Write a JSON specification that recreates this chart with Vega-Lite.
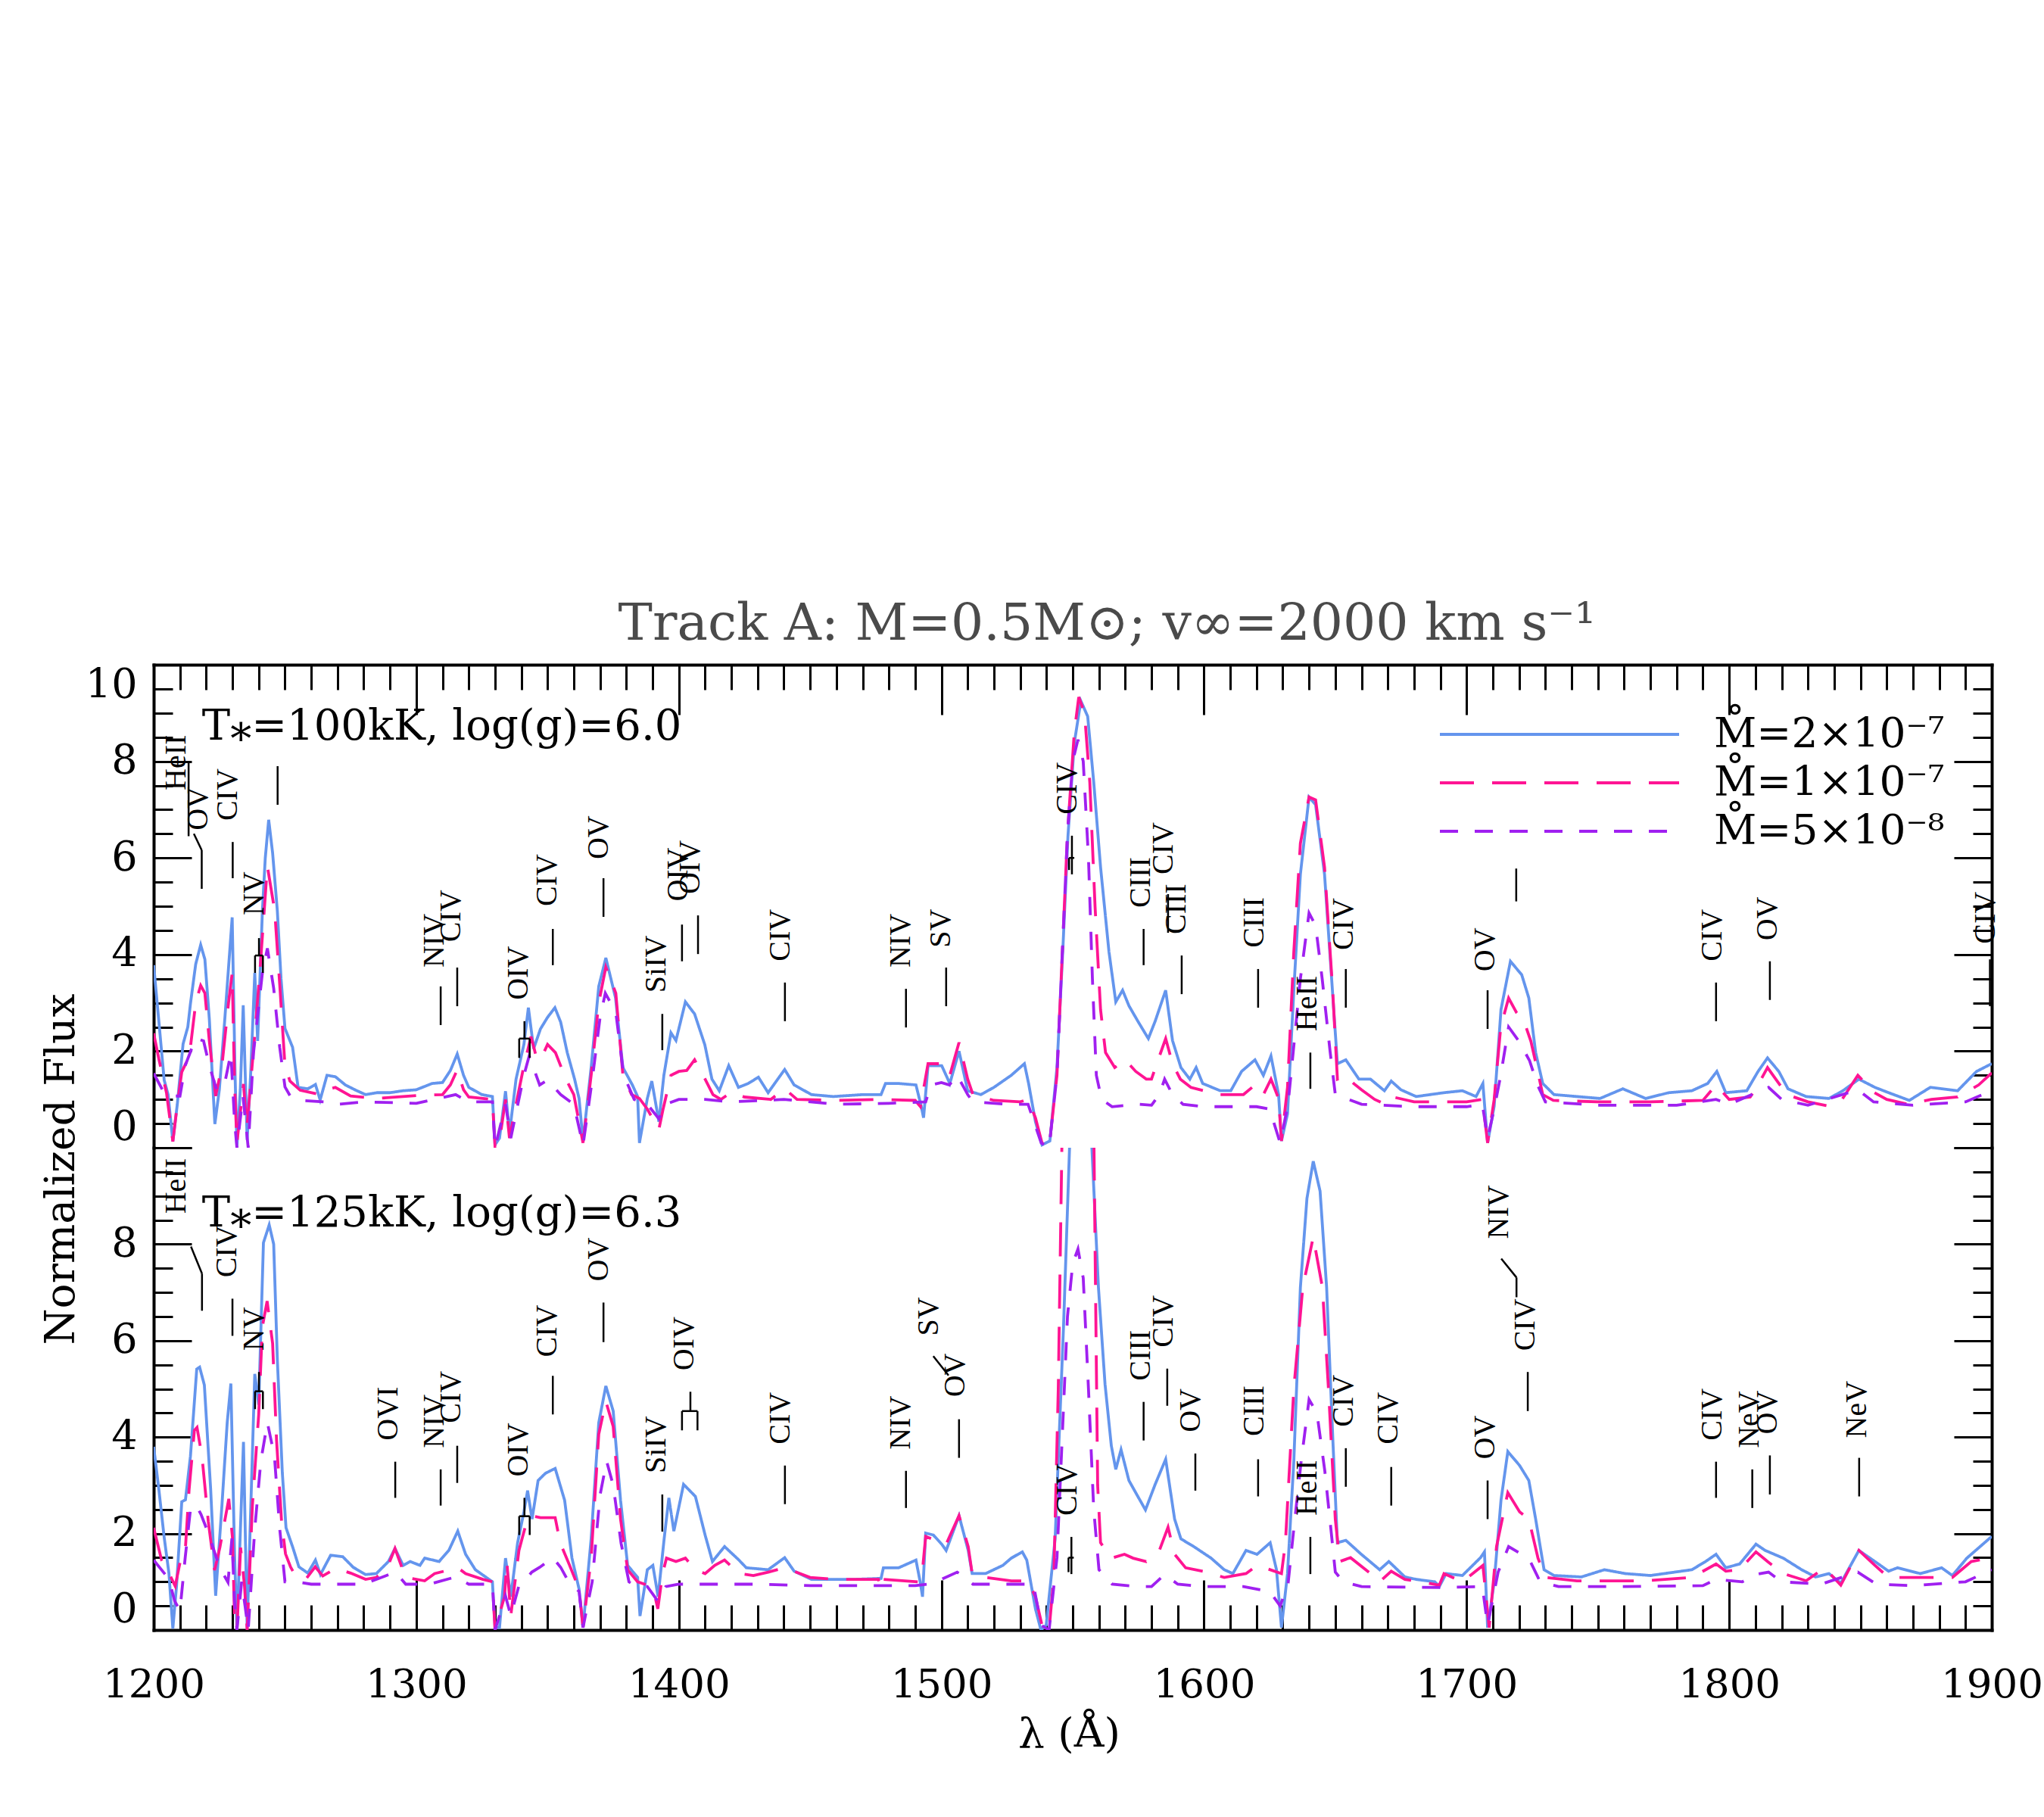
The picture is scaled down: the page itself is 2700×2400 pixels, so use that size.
{
"$schema":"https://vega.github.io/schema/vega-lite/v6.json",
"background":"white",
"autosize":{"type":"pad"},
"padding":{"left":53,"top":790,"right":0,"bottom":40},
"title":{"text":"Track A: M=0.5M⊙; v∞=2000 km s⁻¹","font":"DejaVu Serif","fontSize":68,"fontWeight":"normal","color":"#4a4a4a","anchor":"middle","frame":"group","offset":-36,"baseline":"alphabetic","dx":45},
"spacing":0,
"bounds":"flush",
"resolve":{"scale":{"color":"shared","strokeDash":"shared"},"legend":{"color":"shared","strokeDash":"shared"}},
"config":{"view":{"stroke":null},"axis":{"grid":false,"domainColor":"black","tickColor":"black","domainWidth":4,"tickWidth":3,"domainCap":"square","labelFont":"DejaVu Serif","titleFont":"DejaVu Serif","labelColor":"black","titleColor":"black","titleFontWeight":"normal"}},
"datasets":{
"pl":[{"p":"A","x":1218.4,"y":8.45,"t":"T⁎=100kK, log(g)=6.0"},{"p":"B","x":1218.4,"y":8.36,"t":"T⁎=125kK, log(g)=6.3"}],
"lab":[
{"p":"A","x":1208.7,"y":7.4,"t":"HeII"},{"p":"A","x":1217,"y":6.57,"t":"OV"},{"p":"A","x":1228.2,"y":6.77,"t":"CIV"},{"p":"A","x":1238.4,"y":4.81,"t":"NV"},{"p":"A","x":1307,"y":3.73,"t":"NIV"},{"p":"A","x":1313.4,"y":4.26,"t":"CIV"},{"p":"A","x":1339,"y":3.06,"t":"OIV"},{"p":"A","x":1350,"y":5.0,"t":"CIV"},{"p":"A","x":1369.5,"y":5.97,"t":"OV"},{"p":"A","x":1391.4,"y":3.21,"t":"SiIV"},{"p":"A","x":1399.8,"y":5.1,"t":"OIV"},{"p":"A","x":1404.4,"y":5.25,"t":"OIV"},{"p":"A","x":1438.7,"y":3.86,"t":"CIV"},{"p":"A","x":1484.5,"y":3.73,"t":"NIV"},{"p":"A","x":1499.8,"y":4.14,"t":"SV"},{"p":"A","x":1547.9,"y":6.9,"t":"CIV"},{"p":"A","x":1575.9,"y":4.97,"t":"CIII"},{"p":"A","x":1584.5,"y":5.66,"t":"CIV"},{"p":"A","x":1589.5,"y":4.42,"t":"CIII"},{"p":"A","x":1619.1,"y":4.14,"t":"CIII"},{"p":"A","x":1639.3,"y":2.41,"t":"HeII"},{"p":"A","x":1653.2,"y":4.09,"t":"CIV"},{"p":"A","x":1707,"y":3.65,"t":"OV"},{"p":"A","x":1793.6,"y":3.86,"t":"CIV"},{"p":"A","x":1814.6,"y":4.29,"t":"OV"},{"p":"A","x":1897.6,"y":4.22,"t":"CIV"},
{"p":"B","x":1208.6,"y":8.63,"t":"HeII"},{"p":"B","x":1228,"y":7.31,"t":"CIV"},{"p":"B","x":1238.4,"y":5.79,"t":"NV"},{"p":"B","x":1289.4,"y":3.93,"t":"OVI"},{"p":"B","x":1307,"y":3.77,"t":"NIV"},{"p":"B","x":1313.4,"y":4.29,"t":"CIV"},{"p":"B","x":1339,"y":3.18,"t":"OIV"},{"p":"B","x":1350,"y":5.66,"t":"CIV"},{"p":"B","x":1369.5,"y":7.23,"t":"OV"},{"p":"B","x":1391.4,"y":3.25,"t":"SiIV"},{"p":"B","x":1402,"y":5.38,"t":"OIV"},{"p":"B","x":1438.7,"y":3.85,"t":"CIV"},{"p":"B","x":1484.5,"y":3.74,"t":"NIV"},{"p":"B","x":1495.2,"y":6.1,"t":"SV"},{"p":"B","x":1505.3,"y":4.83,"t":"OV"},{"p":"B","x":1547.9,"y":2.37,"t":"CIV"},{"p":"B","x":1575.9,"y":5.17,"t":"CIII"},{"p":"B","x":1584.5,"y":5.86,"t":"CIV"},{"p":"B","x":1595,"y":4.1,"t":"OV"},{"p":"B","x":1619.1,"y":4.02,"t":"CIII"},{"p":"B","x":1639.3,"y":2.37,"t":"HeII"},{"p":"B","x":1653.2,"y":4.21,"t":"CIV"},{"p":"B","x":1670.2,"y":3.85,"t":"CIV"},{"p":"B","x":1707,"y":3.54,"t":"OV"},{"p":"B","x":1712.3,"y":8.11,"t":"NIV"},{"p":"B","x":1722.4,"y":5.79,"t":"CIV"},{"p":"B","x":1793.6,"y":3.93,"t":"CIV"},{"p":"B","x":1807.7,"y":3.77,"t":"NeV"},{"p":"B","x":1814.6,"y":4.06,"t":"OV"},{"p":"B","x":1848.6,"y":3.98,"t":"NeV"}
],
"seg":[
{"p":"A","x":1213.3,"x2":1213.3,"y":6.45,"y2":8.0},{"p":"A","x":1218.3,"x2":1218.3,"y":5.36,"y2":6.16},{"p":"A","x":1218.3,"x2":1215.3,"y":6.16,"y2":6.5},{"p":"A","x":1230.1,"x2":1230.1,"y":5.58,"y2":6.33},{"p":"A","x":1238.6,"x2":1238.6,"y":3.62,"y2":3.98},{"p":"A","x":1238.6,"x2":1241.6,"y":3.98,"y2":3.98},{"p":"A","x":1241.6,"x2":1241.6,"y":3.98,"y2":3.62},{"p":"A","x":1240.1,"x2":1240.1,"y":3.98,"y2":4.34},{"p":"A","x":1247.2,"x2":1247.2,"y":7.1,"y2":7.9},{"p":"A","x":1309.3,"x2":1309.3,"y":2.54,"y2":3.34},{"p":"A","x":1315.6,"x2":1315.6,"y":2.93,"y2":3.73},{"p":"A","x":1339.2,"x2":1339.2,"y":1.86,"y2":2.26},{"p":"A","x":1339.2,"x2":1343.2,"y":2.26,"y2":2.26},{"p":"A","x":1343.2,"x2":1343.2,"y":2.26,"y2":1.86},{"p":"A","x":1341.2,"x2":1341.2,"y":2.26,"y2":2.62},{"p":"A","x":1352,"x2":1352,"y":3.78,"y2":4.53},{"p":"A","x":1371.3,"x2":1371.3,"y":4.78,"y2":5.58},{"p":"A","x":1393.7,"x2":1393.7,"y":2.02,"y2":2.77},{"p":"A","x":1401.2,"x2":1401.2,"y":3.86,"y2":4.62},{"p":"A","x":1407.3,"x2":1407.3,"y":4.01,"y2":4.81},{"p":"A","x":1440.4,"x2":1440.4,"y":2.62,"y2":3.42},{"p":"A","x":1486.5,"x2":1486.5,"y":2.49,"y2":3.29},{"p":"A","x":1501.8,"x2":1501.8,"y":2.93,"y2":3.73},{"p":"A","x":1549.7,"x2":1549.7,"y":5.66,"y2":6.46},{"p":"A","x":1548.6,"x2":1550.6,"y":6.0,"y2":6.0},{"p":"A","x":1548.6,"x2":1548.6,"y":6.0,"y2":5.75},{"p":"A","x":1577,"x2":1577,"y":3.78,"y2":4.53},{"p":"A","x":1586.3,"x2":1586.3,"y":4.45,"y2":5.25},{"p":"A","x":1591.5,"x2":1591.5,"y":3.18,"y2":3.98},{"p":"A","x":1620.6,"x2":1620.6,"y":2.9,"y2":3.7},{"p":"A","x":1640.5,"x2":1640.5,"y":1.22,"y2":1.97},{"p":"A","x":1654,"x2":1654,"y":2.9,"y2":3.7},{"p":"A","x":1708,"x2":1708,"y":2.46,"y2":3.26},{"p":"A","x":1718.9,"x2":1718.9,"y":5.1,"y2":5.78},{"p":"A","x":1795,"x2":1795,"y":2.62,"y2":3.42},{"p":"A","x":1815.5,"x2":1815.5,"y":3.06,"y2":3.86},{"p":"A","x":1899.3,"x2":1899.3,"y":2.93,"y2":3.9},
{"p":"B","x":1218.4,"x2":1218.4,"y":6.62,"y2":7.39},{"p":"B","x":1218.4,"x2":1214.2,"y":7.39,"y2":7.95},{"p":"B","x":1230,"x2":1230,"y":6.1,"y2":6.87},{"p":"B","x":1238.6,"x2":1238.6,"y":4.58,"y2":4.95},{"p":"B","x":1238.6,"x2":1241.6,"y":4.95,"y2":4.95},{"p":"B","x":1241.6,"x2":1241.6,"y":4.95,"y2":4.58},{"p":"B","x":1240.1,"x2":1240.1,"y":4.95,"y2":5.35},{"p":"B","x":1292,"x2":1292,"y":2.74,"y2":3.49},{"p":"B","x":1309.3,"x2":1309.3,"y":2.58,"y2":3.33},{"p":"B","x":1315.6,"x2":1315.6,"y":3.05,"y2":3.82},{"p":"B","x":1339.2,"x2":1339.2,"y":1.97,"y2":2.36},{"p":"B","x":1339.2,"x2":1343.2,"y":2.36,"y2":2.36},{"p":"B","x":1343.2,"x2":1343.2,"y":2.36,"y2":1.97},{"p":"B","x":1341.2,"x2":1341.2,"y":2.36,"y2":2.74},{"p":"B","x":1352,"x2":1352,"y":4.47,"y2":5.27},{"p":"B","x":1371.3,"x2":1371.3,"y":5.97,"y2":6.79},{"p":"B","x":1393.7,"x2":1393.7,"y":2.04,"y2":2.81},{"p":"B","x":1404.4,"x2":1404.4,"y":4.54,"y2":4.94},{"p":"B","x":1401.2,"x2":1407.1,"y":4.54,"y2":4.54},{"p":"B","x":1401.2,"x2":1401.2,"y":4.54,"y2":4.14},{"p":"B","x":1407.1,"x2":1407.1,"y":4.54,"y2":4.14},{"p":"B","x":1440.4,"x2":1440.4,"y":2.61,"y2":3.41},{"p":"B","x":1486.5,"x2":1486.5,"y":2.53,"y2":3.3},{"p":"B","x":1506.7,"x2":1506.7,"y":3.57,"y2":4.37},{"p":"B","x":1496.9,"x2":1502.7,"y":5.68,"y2":5.28},{"p":"B","x":1549.5,"x2":1549.5,"y":1.16,"y2":1.93},{"p":"B","x":1548.4,"x2":1550.4,"y":1.5,"y2":1.5},{"p":"B","x":1548.4,"x2":1548.4,"y":1.5,"y2":1.2},{"p":"B","x":1577,"x2":1577,"y":3.93,"y2":4.73},{"p":"B","x":1586,"x2":1586,"y":4.65,"y2":5.42},{"p":"B","x":1596.7,"x2":1596.7,"y":2.89,"y2":3.66},{"p":"B","x":1620.6,"x2":1620.6,"y":2.77,"y2":3.54},{"p":"B","x":1640.5,"x2":1640.5,"y":1.16,"y2":1.93},{"p":"B","x":1654,"x2":1654,"y":2.97,"y2":3.77},{"p":"B","x":1671.3,"x2":1671.3,"y":2.58,"y2":3.38},{"p":"B","x":1708,"x2":1708,"y":2.3,"y2":3.1},{"p":"B","x":1719,"x2":1719,"y":6.9,"y2":7.31},{"p":"B","x":1719,"x2":1713.2,"y":7.31,"y2":7.7},{"p":"B","x":1723.3,"x2":1723.3,"y":4.54,"y2":5.35},{"p":"B","x":1795,"x2":1795,"y":2.74,"y2":3.49},{"p":"B","x":1808.8,"x2":1808.8,"y":2.53,"y2":3.33},{"p":"B","x":1815.5,"x2":1815.5,"y":2.81,"y2":3.62},{"p":"B","x":1849.5,"x2":1849.5,"y":2.77,"y2":3.57}
],
"spec":[
{"p":"A","s":"a","x":1200,"y":3.78},{"p":"A","s":"a","x":1202,"y":2.6},{"p":"A","s":"a","x":1204,"y":1.4},{"p":"A","s":"a","x":1205.5,"y":1.1},{"p":"A","s":"a","x":1207.3,"y":0.13},{"p":"A","s":"a","x":1209,"y":0.9},{"p":"A","s":"a","x":1211.2,"y":2.15},{"p":"A","s":"a","x":1213,"y":2.5},{"p":"A","s":"a","x":1214,"y":2.98},{"p":"A","s":"a","x":1216,"y":3.8},{"p":"A","s":"a","x":1217.9,"y":4.2},{"p":"A","s":"a","x":1219.5,"y":3.9},{"p":"A","s":"a","x":1221.2,"y":2.66},{"p":"A","s":"a","x":1223.3,"y":0.49},{"p":"A","s":"a","x":1225,"y":1.2},{"p":"A","s":"a","x":1227,"y":2.6},{"p":"A","s":"a","x":1229.9,"y":4.77},{"p":"A","s":"a","x":1231,"y":1.5},{"p":"A","s":"a","x":1231.7,"y":0.03},{"p":"A","s":"a","x":1233,"y":1.2},{"p":"A","s":"a","x":1234.1,"y":2.95},{"p":"A","s":"a","x":1235.6,"y":0.16},{"p":"A","s":"a","x":1237,"y":1.6},{"p":"A","s":"a","x":1238.5,"y":3.62},{"p":"A","s":"a","x":1239.6,"y":2.21},{"p":"A","s":"a","x":1241.4,"y":4.9},{"p":"A","s":"a","x":1242.5,"y":6.0},{"p":"A","s":"a","x":1243.8,"y":6.79},{"p":"A","s":"a","x":1245.3,"y":6.1},{"p":"A","s":"a","x":1247.1,"y":4.9},{"p":"A","s":"a","x":1248.5,"y":3.5},{"p":"A","s":"a","x":1250,"y":2.47},{"p":"A","s":"a","x":1252.9,"y":2.08},{"p":"A","s":"a","x":1255,"y":1.25},{"p":"A","s":"a","x":1258.7,"y":1.22},{"p":"A","s":"a","x":1261.6,"y":1.31},{"p":"A","s":"a","x":1263.4,"y":0.99},{"p":"A","s":"a","x":1266,"y":1.5},{"p":"A","s":"a","x":1269.2,"y":1.47},{"p":"A","s":"a","x":1273,"y":1.3},{"p":"A","s":"a","x":1277,"y":1.19},{"p":"A","s":"a","x":1280.7,"y":1.1},{"p":"A","s":"a","x":1285,"y":1.14},{"p":"A","s":"a","x":1290,"y":1.14},{"p":"A","s":"a","x":1295,"y":1.18},{"p":"A","s":"a","x":1300,"y":1.2},{"p":"A","s":"a","x":1306,"y":1.33},{"p":"A","s":"a","x":1310,"y":1.35},{"p":"A","s":"a","x":1313,"y":1.6},{"p":"A","s":"a","x":1315.6,"y":1.94},{"p":"A","s":"a","x":1318,"y":1.5},{"p":"A","s":"a","x":1320,"y":1.25},{"p":"A","s":"a","x":1325,"y":1.1},{"p":"A","s":"a","x":1329,"y":1.06},{"p":"A","s":"a","x":1330,"y":0.06},{"p":"A","s":"a","x":1331.7,"y":0.2},{"p":"A","s":"a","x":1334,"y":1.17},{"p":"A","s":"a","x":1335.5,"y":0.3},{"p":"A","s":"a","x":1338,"y":1.42},{"p":"A","s":"a","x":1341,"y":2.14},{"p":"A","s":"a","x":1342.7,"y":2.9},{"p":"A","s":"a","x":1344.7,"y":2.05},{"p":"A","s":"a","x":1347.3,"y":2.46},{"p":"A","s":"a","x":1350,"y":2.7},{"p":"A","s":"a","x":1352.8,"y":2.9},{"p":"A","s":"a","x":1355,"y":2.6},{"p":"A","s":"a","x":1357.5,"y":1.97},{"p":"A","s":"a","x":1360.3,"y":1.42},{"p":"A","s":"a","x":1362,"y":1.02},{"p":"A","s":"a","x":1363.5,"y":0.14},{"p":"A","s":"a","x":1366.6,"y":1.66},{"p":"A","s":"a","x":1369.5,"y":3.34},{"p":"A","s":"a","x":1372.2,"y":3.93},{"p":"A","s":"a","x":1375.9,"y":3.1},{"p":"A","s":"a","x":1378.7,"y":1.66},{"p":"A","s":"a","x":1382.3,"y":1.3},{"p":"A","s":"a","x":1384.3,"y":1.06},{"p":"A","s":"a","x":1385,"y":0.1},{"p":"A","s":"a","x":1388,"y":1.02},{"p":"A","s":"a","x":1389.7,"y":1.38},{"p":"A","s":"a","x":1392.4,"y":0.54},{"p":"A","s":"a","x":1394.3,"y":1.5},{"p":"A","s":"a","x":1397,"y":2.38},{"p":"A","s":"a","x":1398.9,"y":2.22},{"p":"A","s":"a","x":1402.5,"y":3.02},{"p":"A","s":"a","x":1406,"y":2.77},{"p":"A","s":"a","x":1409.9,"y":2.13},{"p":"A","s":"a","x":1412.6,"y":1.42},{"p":"A","s":"a","x":1415.4,"y":1.18},{"p":"A","s":"a","x":1419,"y":1.7},{"p":"A","s":"a","x":1422.7,"y":1.25},{"p":"A","s":"a","x":1426.4,"y":1.33},{"p":"A","s":"a","x":1430.3,"y":1.46},{"p":"A","s":"a","x":1434,"y":1.14},{"p":"A","s":"a","x":1440.3,"y":1.62},{"p":"A","s":"a","x":1443.9,"y":1.3},{"p":"A","s":"a","x":1450.5,"y":1.1},{"p":"A","s":"a","x":1458.8,"y":1.06},{"p":"A","s":"a","x":1470,"y":1.1},{"p":"A","s":"a","x":1477,"y":1.1},{"p":"A","s":"a","x":1478.7,"y":1.33},{"p":"A","s":"a","x":1483.7,"y":1.33},{"p":"A","s":"a","x":1490.3,"y":1.3},{"p":"A","s":"a","x":1492.3,"y":0.86},{"p":"A","s":"a","x":1493.2,"y":0.62},{"p":"A","s":"a","x":1494.9,"y":1.7},{"p":"A","s":"a","x":1500.1,"y":1.7},{"p":"A","s":"a","x":1503.2,"y":1.33},{"p":"A","s":"a","x":1506.7,"y":2.0},{"p":"A","s":"a","x":1510,"y":1.18},{"p":"A","s":"a","x":1515,"y":1.1},{"p":"A","s":"a","x":1520,"y":1.25},{"p":"A","s":"a","x":1526.6,"y":1.5},{"p":"A","s":"a","x":1531.6,"y":1.74},{"p":"A","s":"a","x":1533.2,"y":1.33},{"p":"A","s":"a","x":1535.8,"y":0.54},{"p":"A","s":"a","x":1538.3,"y":0.06},{"p":"A","s":"a","x":1541.3,"y":0.14},{"p":"A","s":"a","x":1544,"y":1.66},{"p":"A","s":"a","x":1546.2,"y":4.06},{"p":"A","s":"a","x":1548.2,"y":6.46},{"p":"A","s":"a","x":1550.6,"y":8.38},{"p":"A","s":"a","x":1553.1,"y":9.25},{"p":"A","s":"a","x":1555.7,"y":8.93},{"p":"A","s":"a","x":1558,"y":7.57},{"p":"A","s":"a","x":1560.6,"y":5.81},{"p":"A","s":"a","x":1563.8,"y":4.06},{"p":"A","s":"a","x":1566.4,"y":3.02},{"p":"A","s":"a","x":1569,"y":3.26},{"p":"A","s":"a","x":1571.4,"y":2.94},{"p":"A","s":"a","x":1574.8,"y":2.62},{"p":"A","s":"a","x":1578.8,"y":2.26},{"p":"A","s":"a","x":1581.4,"y":2.62},{"p":"A","s":"a","x":1585.4,"y":3.26},{"p":"A","s":"a","x":1588,"y":2.22},{"p":"A","s":"a","x":1591.2,"y":1.66},{"p":"A","s":"a","x":1594.6,"y":1.42},{"p":"A","s":"a","x":1597,"y":1.66},{"p":"A","s":"a","x":1599.5,"y":1.33},{"p":"A","s":"a","x":1606.2,"y":1.18},{"p":"A","s":"a","x":1610.2,"y":1.18},{"p":"A","s":"a","x":1614.3,"y":1.58},{"p":"A","s":"a","x":1619.4,"y":1.82},{"p":"A","s":"a","x":1622.6,"y":1.5},{"p":"A","s":"a","x":1625.5,"y":1.9},{"p":"A","s":"a","x":1628.4,"y":1.1},{"p":"A","s":"a","x":1629.5,"y":0.14},{"p":"A","s":"a","x":1631.8,"y":0.7},{"p":"A","s":"a","x":1634.2,"y":3.26},{"p":"A","s":"a","x":1636.7,"y":5.66},{"p":"A","s":"a","x":1640,"y":7.26},{"p":"A","s":"a","x":1642.5,"y":7.1},{"p":"A","s":"a","x":1645.9,"y":5.66},{"p":"A","s":"a","x":1649.1,"y":3.1},{"p":"A","s":"a","x":1650.8,"y":1.74},{"p":"A","s":"a","x":1654,"y":1.82},{"p":"A","s":"a","x":1659,"y":1.42},{"p":"A","s":"a","x":1663.4,"y":1.42},{"p":"A","s":"a","x":1668.7,"y":1.18},{"p":"A","s":"a","x":1671.3,"y":1.38},{"p":"A","s":"a","x":1675,"y":1.2},{"p":"A","s":"a","x":1680.8,"y":1.06},{"p":"A","s":"a","x":1691.4,"y":1.14},{"p":"A","s":"a","x":1698.4,"y":1.18},{"p":"A","s":"a","x":1703.6,"y":1.06},{"p":"A","s":"a","x":1706.2,"y":1.33},{"p":"A","s":"a","x":1708,"y":0.1},{"p":"A","s":"a","x":1710.5,"y":0.86},{"p":"A","s":"a","x":1713.1,"y":2.86},{"p":"A","s":"a","x":1716.7,"y":3.86},{"p":"A","s":"a","x":1721,"y":3.58},{"p":"A","s":"a","x":1723.7,"y":3.1},{"p":"A","s":"a","x":1726.3,"y":1.97},{"p":"A","s":"a","x":1729,"y":1.33},{"p":"A","s":"a","x":1733.3,"y":1.1},{"p":"A","s":"a","x":1750.8,"y":1.02},{"p":"A","s":"a","x":1759.5,"y":1.22},{"p":"A","s":"a","x":1768.2,"y":1.02},{"p":"A","s":"a","x":1777,"y":1.14},{"p":"A","s":"a","x":1785.8,"y":1.18},{"p":"A","s":"a","x":1791.8,"y":1.33},{"p":"A","s":"a","x":1795.3,"y":1.58},{"p":"A","s":"a","x":1798.7,"y":1.14},{"p":"A","s":"a","x":1806.7,"y":1.18},{"p":"A","s":"a","x":1811,"y":1.58},{"p":"A","s":"a","x":1814.6,"y":1.86},{"p":"A","s":"a","x":1818.9,"y":1.58},{"p":"A","s":"a","x":1822.4,"y":1.22},{"p":"A","s":"a","x":1829.3,"y":1.06},{"p":"A","s":"a","x":1838,"y":1.02},{"p":"A","s":"a","x":1843.3,"y":1.18},{"p":"A","s":"a","x":1849.4,"y":1.42},{"p":"A","s":"a","x":1855.5,"y":1.25},{"p":"A","s":"a","x":1860.7,"y":1.14},{"p":"A","s":"a","x":1868.6,"y":0.98},{"p":"A","s":"a","x":1876.6,"y":1.25},{"p":"A","s":"a","x":1887,"y":1.18},{"p":"A","s":"a","x":1894.2,"y":1.58},{"p":"A","s":"a","x":1900,"y":1.74},
{"p":"A","s":"b","x":1200,"y":2.37},{"p":"A","s":"b","x":1202,"y":1.83},{"p":"A","s":"b","x":1204.9,"y":1.13},{"p":"A","s":"b","x":1207.3,"y":0.13},{"p":"A","s":"b","x":1209,"y":0.9},{"p":"A","s":"b","x":1210.7,"y":1.57},{"p":"A","s":"b","x":1213.6,"y":1.9},{"p":"A","s":"b","x":1216,"y":3.0},{"p":"A","s":"b","x":1217.9,"y":3.36},{"p":"A","s":"b","x":1219.5,"y":3.2},{"p":"A","s":"b","x":1221.2,"y":2.21},{"p":"A","s":"b","x":1223.6,"y":1.07},{"p":"A","s":"b","x":1226,"y":1.7},{"p":"A","s":"b","x":1228.5,"y":3.0},{"p":"A","s":"b","x":1229.9,"y":3.62},{"p":"A","s":"b","x":1230.8,"y":1.32},{"p":"A","s":"b","x":1231.7,"y":0.1},{"p":"A","s":"b","x":1234.2,"y":1.32},{"p":"A","s":"b","x":1235.5,"y":0.42},{"p":"A","s":"b","x":1238.5,"y":2.34},{"p":"A","s":"b","x":1240.4,"y":3.62},{"p":"A","s":"b","x":1243.3,"y":5.83},{"p":"A","s":"b","x":1246.1,"y":4.9},{"p":"A","s":"b","x":1248.1,"y":3.3},{"p":"A","s":"b","x":1250,"y":1.7},{"p":"A","s":"b","x":1251.9,"y":1.38},{"p":"A","s":"b","x":1255.8,"y":1.19},{"p":"A","s":"b","x":1263.4,"y":1.1},{"p":"A","s":"b","x":1266,"y":1.2},{"p":"A","s":"b","x":1269.2,"y":1.25},{"p":"A","s":"b","x":1275,"y":1.07},{"p":"A","s":"b","x":1285,"y":1.02},{"p":"A","s":"b","x":1300,"y":1.08},{"p":"A","s":"b","x":1310,"y":1.1},{"p":"A","s":"b","x":1313,"y":1.3},{"p":"A","s":"b","x":1315.6,"y":1.61},{"p":"A","s":"b","x":1318,"y":1.2},{"p":"A","s":"b","x":1320,"y":1.05},{"p":"A","s":"b","x":1329,"y":1.0},{"p":"A","s":"b","x":1330,"y":0.02},{"p":"A","s":"b","x":1331.7,"y":0.15},{"p":"A","s":"b","x":1334,"y":1.0},{"p":"A","s":"b","x":1335.5,"y":0.2},{"p":"A","s":"b","x":1338,"y":0.9},{"p":"A","s":"b","x":1341,"y":1.7},{"p":"A","s":"b","x":1343.7,"y":2.3},{"p":"A","s":"b","x":1346,"y":1.82},{"p":"A","s":"b","x":1348,"y":1.9},{"p":"A","s":"b","x":1350,"y":2.14},{"p":"A","s":"b","x":1353,"y":1.97},{"p":"A","s":"b","x":1357,"y":1.42},{"p":"A","s":"b","x":1360,"y":1.1},{"p":"A","s":"b","x":1363.5,"y":0.1},{"p":"A","s":"b","x":1366.6,"y":1.5},{"p":"A","s":"b","x":1369.5,"y":3.0},{"p":"A","s":"b","x":1372.2,"y":3.74},{"p":"A","s":"b","x":1376,"y":3.2},{"p":"A","s":"b","x":1378.7,"y":1.5},{"p":"A","s":"b","x":1382,"y":1.1},{"p":"A","s":"b","x":1385,"y":1.02},{"p":"A","s":"b","x":1388,"y":0.8},{"p":"A","s":"b","x":1392.4,"y":0.38},{"p":"A","s":"b","x":1394,"y":0.8},{"p":"A","s":"b","x":1397,"y":1.5},{"p":"A","s":"b","x":1400,"y":1.58},{"p":"A","s":"b","x":1403,"y":1.6},{"p":"A","s":"b","x":1406,"y":1.82},{"p":"A","s":"b","x":1410,"y":1.42},{"p":"A","s":"b","x":1413,"y":1.1},{"p":"A","s":"b","x":1416,"y":1.0},{"p":"A","s":"b","x":1420,"y":1.15},{"p":"A","s":"b","x":1425,"y":1.05},{"p":"A","s":"b","x":1435,"y":1.0},{"p":"A","s":"b","x":1440.3,"y":1.22},{"p":"A","s":"b","x":1445,"y":1.0},{"p":"A","s":"b","x":1460,"y":0.98},{"p":"A","s":"b","x":1475,"y":1.0},{"p":"A","s":"b","x":1490,"y":0.98},{"p":"A","s":"b","x":1492,"y":0.85},{"p":"A","s":"b","x":1494.9,"y":1.74},{"p":"A","s":"b","x":1500.1,"y":1.74},{"p":"A","s":"b","x":1503.2,"y":1.5},{"p":"A","s":"b","x":1506.7,"y":2.18},{"p":"A","s":"b","x":1510,"y":1.42},{"p":"A","s":"b","x":1512,"y":1.1},{"p":"A","s":"b","x":1520,"y":0.98},{"p":"A","s":"b","x":1530,"y":0.95},{"p":"A","s":"b","x":1533,"y":1.0},{"p":"A","s":"b","x":1535.8,"y":0.62},{"p":"A","s":"b","x":1538.3,"y":0.1},{"p":"A","s":"b","x":1541,"y":0.0},{"p":"A","s":"b","x":1544,"y":1.5},{"p":"A","s":"b","x":1546,"y":4.0},{"p":"A","s":"b","x":1548,"y":6.5},{"p":"A","s":"b","x":1550.6,"y":8.6},{"p":"A","s":"b","x":1552.3,"y":9.33},{"p":"A","s":"b","x":1554.5,"y":9.0},{"p":"A","s":"b","x":1556.5,"y":7.57},{"p":"A","s":"b","x":1558.5,"y":5.0},{"p":"A","s":"b","x":1560.6,"y":2.86},{"p":"A","s":"b","x":1562.5,"y":1.97},{"p":"A","s":"b","x":1566,"y":1.66},{"p":"A","s":"b","x":1570,"y":1.82},{"p":"A","s":"b","x":1574,"y":1.58},{"p":"A","s":"b","x":1578,"y":1.42},{"p":"A","s":"b","x":1580,"y":1.42},{"p":"A","s":"b","x":1582,"y":1.74},{"p":"A","s":"b","x":1585.4,"y":2.26},{"p":"A","s":"b","x":1588,"y":1.74},{"p":"A","s":"b","x":1591,"y":1.42},{"p":"A","s":"b","x":1595,"y":1.25},{"p":"A","s":"b","x":1600,"y":1.18},{"p":"A","s":"b","x":1606,"y":1.1},{"p":"A","s":"b","x":1615,"y":1.1},{"p":"A","s":"b","x":1619.4,"y":1.3},{"p":"A","s":"b","x":1622.6,"y":1.1},{"p":"A","s":"b","x":1625.5,"y":1.42},{"p":"A","s":"b","x":1628.4,"y":1.02},{"p":"A","s":"b","x":1629.5,"y":0.14},{"p":"A","s":"b","x":1631.8,"y":1.25},{"p":"A","s":"b","x":1634.2,"y":4.06},{"p":"A","s":"b","x":1636.7,"y":6.3},{"p":"A","s":"b","x":1640,"y":7.26},{"p":"A","s":"b","x":1642.5,"y":7.2},{"p":"A","s":"b","x":1645.9,"y":5.81},{"p":"A","s":"b","x":1649,"y":3.26},{"p":"A","s":"b","x":1650.8,"y":1.42},{"p":"A","s":"b","x":1654,"y":1.5},{"p":"A","s":"b","x":1657,"y":1.33},{"p":"A","s":"b","x":1660,"y":1.2},{"p":"A","s":"b","x":1665,"y":1.0},{"p":"A","s":"b","x":1669,"y":0.9},{"p":"A","s":"b","x":1672,"y":1.05},{"p":"A","s":"b","x":1680,"y":0.95},{"p":"A","s":"b","x":1690,"y":0.95},{"p":"A","s":"b","x":1700,"y":0.95},{"p":"A","s":"b","x":1706,"y":1.0},{"p":"A","s":"b","x":1708,"y":0.1},{"p":"A","s":"b","x":1710.5,"y":1.0},{"p":"A","s":"b","x":1713,"y":2.5},{"p":"A","s":"b","x":1716,"y":3.1},{"p":"A","s":"b","x":1719,"y":2.8},{"p":"A","s":"b","x":1722,"y":2.6},{"p":"A","s":"b","x":1724.5,"y":2.2},{"p":"A","s":"b","x":1727,"y":1.6},{"p":"A","s":"b","x":1729,"y":1.1},{"p":"A","s":"b","x":1733,"y":0.98},{"p":"A","s":"b","x":1750,"y":0.95},{"p":"A","s":"b","x":1770,"y":0.95},{"p":"A","s":"b","x":1790,"y":0.98},{"p":"A","s":"b","x":1795,"y":1.3},{"p":"A","s":"b","x":1800,"y":1.0},{"p":"A","s":"b","x":1808,"y":1.05},{"p":"A","s":"b","x":1811,"y":1.3},{"p":"A","s":"b","x":1814.6,"y":1.66},{"p":"A","s":"b","x":1818,"y":1.4},{"p":"A","s":"b","x":1822,"y":1.1},{"p":"A","s":"b","x":1830,"y":0.95},{"p":"A","s":"b","x":1838,"y":0.86},{"p":"A","s":"b","x":1843,"y":1.0},{"p":"A","s":"b","x":1849,"y":1.5},{"p":"A","s":"b","x":1855,"y":1.15},{"p":"A","s":"b","x":1860,"y":1.0},{"p":"A","s":"b","x":1868,"y":0.9},{"p":"A","s":"b","x":1877,"y":1.0},{"p":"A","s":"b","x":1887,"y":1.05},{"p":"A","s":"b","x":1895,"y":1.3},{"p":"A","s":"b","x":1900,"y":1.55},
{"p":"A","s":"c","x":1200,"y":1.54},{"p":"A","s":"c","x":1204,"y":1.13},{"p":"A","s":"c","x":1206,"y":1.07},{"p":"A","s":"c","x":1210,"y":1.07},{"p":"A","s":"c","x":1212,"y":1.7},{"p":"A","s":"c","x":1216,"y":2.27},{"p":"A","s":"c","x":1219,"y":2.21},{"p":"A","s":"c","x":1221.2,"y":1.7},{"p":"A","s":"c","x":1224,"y":1.19},{"p":"A","s":"c","x":1227,"y":1.32},{"p":"A","s":"c","x":1229.4,"y":1.96},{"p":"A","s":"c","x":1230.8,"y":0.55},{"p":"A","s":"c","x":1231.7,"y":0.0},{"p":"A","s":"c","x":1234,"y":1.07},{"p":"A","s":"c","x":1236,"y":0.0},{"p":"A","s":"c","x":1238,"y":1.96},{"p":"A","s":"c","x":1241.4,"y":3.62},{"p":"A","s":"c","x":1243.3,"y":4.13},{"p":"A","s":"c","x":1245.7,"y":3.3},{"p":"A","s":"c","x":1248,"y":2.08},{"p":"A","s":"c","x":1250,"y":1.26},{"p":"A","s":"c","x":1252,"y":1.07},{"p":"A","s":"c","x":1256,"y":0.98},{"p":"A","s":"c","x":1265,"y":0.95},{"p":"A","s":"c","x":1270,"y":0.9},{"p":"A","s":"c","x":1280,"y":0.95},{"p":"A","s":"c","x":1300,"y":0.92},{"p":"A","s":"c","x":1315,"y":1.1},{"p":"A","s":"c","x":1320,"y":0.95},{"p":"A","s":"c","x":1329,"y":0.95},{"p":"A","s":"c","x":1330,"y":0.0},{"p":"A","s":"c","x":1334,"y":0.9},{"p":"A","s":"c","x":1336,"y":0.2},{"p":"A","s":"c","x":1341,"y":1.5},{"p":"A","s":"c","x":1343,"y":1.9},{"p":"A","s":"c","x":1347,"y":1.3},{"p":"A","s":"c","x":1350,"y":1.4},{"p":"A","s":"c","x":1355,"y":1.1},{"p":"A","s":"c","x":1360,"y":0.9},{"p":"A","s":"c","x":1363.5,"y":0.05},{"p":"A","s":"c","x":1367,"y":1.4},{"p":"A","s":"c","x":1370,"y":2.7},{"p":"A","s":"c","x":1372,"y":3.2},{"p":"A","s":"c","x":1376,"y":2.8},{"p":"A","s":"c","x":1379,"y":1.5},{"p":"A","s":"c","x":1383,"y":1.0},{"p":"A","s":"c","x":1388,"y":0.9},{"p":"A","s":"c","x":1392.4,"y":0.6},{"p":"A","s":"c","x":1395,"y":0.9},{"p":"A","s":"c","x":1400,"y":1.0},{"p":"A","s":"c","x":1410,"y":1.0},{"p":"A","s":"c","x":1420,"y":0.95},{"p":"A","s":"c","x":1440,"y":1.0},{"p":"A","s":"c","x":1460,"y":0.9},{"p":"A","s":"c","x":1480,"y":0.92},{"p":"A","s":"c","x":1494,"y":0.95},{"p":"A","s":"c","x":1496,"y":1.3},{"p":"A","s":"c","x":1500,"y":1.35},{"p":"A","s":"c","x":1503,"y":1.3},{"p":"A","s":"c","x":1506,"y":1.5},{"p":"A","s":"c","x":1510,"y":1.1},{"p":"A","s":"c","x":1512,"y":0.95},{"p":"A","s":"c","x":1525,"y":0.9},{"p":"A","s":"c","x":1533,"y":0.9},{"p":"A","s":"c","x":1538,"y":0.1},{"p":"A","s":"c","x":1541,"y":0.0},{"p":"A","s":"c","x":1544,"y":1.5},{"p":"A","s":"c","x":1546,"y":4.0},{"p":"A","s":"c","x":1548,"y":6.5},{"p":"A","s":"c","x":1550,"y":8.0},{"p":"A","s":"c","x":1552,"y":8.45},{"p":"A","s":"c","x":1554,"y":8.0},{"p":"A","s":"c","x":1556,"y":6.0},{"p":"A","s":"c","x":1557.5,"y":3.5},{"p":"A","s":"c","x":1559,"y":1.5},{"p":"A","s":"c","x":1561,"y":1.0},{"p":"A","s":"c","x":1565,"y":0.85},{"p":"A","s":"c","x":1575,"y":0.9},{"p":"A","s":"c","x":1580,"y":0.88},{"p":"A","s":"c","x":1583,"y":1.1},{"p":"A","s":"c","x":1585,"y":1.42},{"p":"A","s":"c","x":1588,"y":1.1},{"p":"A","s":"c","x":1592,"y":0.9},{"p":"A","s":"c","x":1600,"y":0.85},{"p":"A","s":"c","x":1610,"y":0.85},{"p":"A","s":"c","x":1620,"y":0.85},{"p":"A","s":"c","x":1625,"y":0.8},{"p":"A","s":"c","x":1629,"y":0.1},{"p":"A","s":"c","x":1632,"y":0.9},{"p":"A","s":"c","x":1634,"y":2.0},{"p":"A","s":"c","x":1636.7,"y":3.5},{"p":"A","s":"c","x":1640,"y":4.86},{"p":"A","s":"c","x":1642.5,"y":4.6},{"p":"A","s":"c","x":1645,"y":3.5},{"p":"A","s":"c","x":1648,"y":2.0},{"p":"A","s":"c","x":1650,"y":1.1},{"p":"A","s":"c","x":1655,"y":1.0},{"p":"A","s":"c","x":1660,"y":0.9},{"p":"A","s":"c","x":1680,"y":0.85},{"p":"A","s":"c","x":1700,"y":0.85},{"p":"A","s":"c","x":1706,"y":0.9},{"p":"A","s":"c","x":1708,"y":0.2},{"p":"A","s":"c","x":1710.5,"y":0.8},{"p":"A","s":"c","x":1713,"y":1.5},{"p":"A","s":"c","x":1716,"y":2.5},{"p":"A","s":"c","x":1720,"y":2.2},{"p":"A","s":"c","x":1724,"y":1.8},{"p":"A","s":"c","x":1727,"y":1.3},{"p":"A","s":"c","x":1730,"y":0.95},{"p":"A","s":"c","x":1750,"y":0.88},{"p":"A","s":"c","x":1780,"y":0.88},{"p":"A","s":"c","x":1795,"y":1.0},{"p":"A","s":"c","x":1800,"y":0.9},{"p":"A","s":"c","x":1815,"y":1.25},{"p":"A","s":"c","x":1820,"y":1.0},{"p":"A","s":"c","x":1830,"y":0.88},{"p":"A","s":"c","x":1849,"y":1.2},{"p":"A","s":"c","x":1855,"y":0.95},{"p":"A","s":"c","x":1870,"y":0.88},{"p":"A","s":"c","x":1890,"y":0.95},{"p":"A","s":"c","x":1900,"y":1.18},
{"p":"B","s":"a","x":1200,"y":3.8},{"p":"B","s":"a","x":1202,"y":2.9},{"p":"B","s":"a","x":1204,"y":1.92},{"p":"B","s":"a","x":1205.8,"y":1.18},{"p":"B","s":"a","x":1207.3,"y":0.03},{"p":"B","s":"a","x":1208.7,"y":0.91},{"p":"B","s":"a","x":1210.7,"y":2.66},{"p":"B","s":"a","x":1212.1,"y":2.7},{"p":"B","s":"a","x":1214,"y":3.6},{"p":"B","s":"a","x":1216.4,"y":5.41},{"p":"B","s":"a","x":1217.5,"y":5.45},{"p":"B","s":"a","x":1219.3,"y":5.08},{"p":"B","s":"a","x":1221.7,"y":2.92},{"p":"B","s":"a","x":1223.6,"y":0.71},{"p":"B","s":"a","x":1226,"y":2.59},{"p":"B","s":"a","x":1228,"y":4.3},{"p":"B","s":"a","x":1229.4,"y":5.11},{"p":"B","s":"a","x":1230.8,"y":1.58},{"p":"B","s":"a","x":1231.7,"y":0.0},{"p":"B","s":"a","x":1234.2,"y":3.9},{"p":"B","s":"a","x":1235.6,"y":0.03},{"p":"B","s":"a","x":1238.5,"y":5.31},{"p":"B","s":"a","x":1240,"y":4.67},{"p":"B","s":"a","x":1241.8,"y":8.03},{"p":"B","s":"a","x":1244,"y":8.4},{"p":"B","s":"a","x":1245.7,"y":8.0},{"p":"B","s":"a","x":1247.1,"y":5.6},{"p":"B","s":"a","x":1249,"y":3.25},{"p":"B","s":"a","x":1250.4,"y":2.12},{"p":"B","s":"a","x":1253,"y":1.71},{"p":"B","s":"a","x":1255.3,"y":1.31},{"p":"B","s":"a","x":1258.7,"y":1.18},{"p":"B","s":"a","x":1261.6,"y":1.45},{"p":"B","s":"a","x":1263.5,"y":1.15},{"p":"B","s":"a","x":1267.4,"y":1.55},{"p":"B","s":"a","x":1272,"y":1.52},{"p":"B","s":"a","x":1276,"y":1.3},{"p":"B","s":"a","x":1280.7,"y":1.15},{"p":"B","s":"a","x":1284.8,"y":1.17},{"p":"B","s":"a","x":1289.4,"y":1.42},{"p":"B","s":"a","x":1291.9,"y":1.69},{"p":"B","s":"a","x":1295,"y":1.34},{"p":"B","s":"a","x":1297.7,"y":1.42},{"p":"B","s":"a","x":1301.4,"y":1.34},{"p":"B","s":"a","x":1303.2,"y":1.49},{"p":"B","s":"a","x":1308.7,"y":1.42},{"p":"B","s":"a","x":1312.4,"y":1.65},{"p":"B","s":"a","x":1315.8,"y":2.05},{"p":"B","s":"a","x":1318.8,"y":1.57},{"p":"B","s":"a","x":1322.5,"y":1.25},{"p":"B","s":"a","x":1329,"y":1.0},{"p":"B","s":"a","x":1330,"y":0.05},{"p":"B","s":"a","x":1331.7,"y":0.05},{"p":"B","s":"a","x":1334,"y":1.49},{"p":"B","s":"a","x":1336,"y":0.69},{"p":"B","s":"a","x":1338.6,"y":1.81},{"p":"B","s":"a","x":1341,"y":2.45},{"p":"B","s":"a","x":1342.4,"y":2.89},{"p":"B","s":"a","x":1344.1,"y":2.3},{"p":"B","s":"a","x":1346.4,"y":3.1},{"p":"B","s":"a","x":1349.2,"y":3.25},{"p":"B","s":"a","x":1352.9,"y":3.35},{"p":"B","s":"a","x":1356.5,"y":2.69},{"p":"B","s":"a","x":1359.3,"y":1.49},{"p":"B","s":"a","x":1362,"y":0.85},{"p":"B","s":"a","x":1363.5,"y":0.05},{"p":"B","s":"a","x":1366.6,"y":1.89},{"p":"B","s":"a","x":1369.5,"y":4.3},{"p":"B","s":"a","x":1372.2,"y":5.06},{"p":"B","s":"a","x":1375,"y":4.54},{"p":"B","s":"a","x":1377.8,"y":2.69},{"p":"B","s":"a","x":1380.5,"y":1.34},{"p":"B","s":"a","x":1384.3,"y":1.09},{"p":"B","s":"a","x":1385.2,"y":0.29},{"p":"B","s":"a","x":1388,"y":1.25},{"p":"B","s":"a","x":1390.1,"y":1.34},{"p":"B","s":"a","x":1392.1,"y":0.69},{"p":"B","s":"a","x":1394.4,"y":1.89},{"p":"B","s":"a","x":1396.2,"y":2.74},{"p":"B","s":"a","x":1398.1,"y":2.05},{"p":"B","s":"a","x":1401.8,"y":3.02},{"p":"B","s":"a","x":1406.3,"y":2.77},{"p":"B","s":"a","x":1410,"y":1.97},{"p":"B","s":"a","x":1412.8,"y":1.42},{"p":"B","s":"a","x":1417.4,"y":1.73},{"p":"B","s":"a","x":1422.7,"y":1.46},{"p":"B","s":"a","x":1425.7,"y":1.29},{"p":"B","s":"a","x":1434,"y":1.25},{"p":"B","s":"a","x":1440.3,"y":1.5},{"p":"B","s":"a","x":1443.9,"y":1.22},{"p":"B","s":"a","x":1450.5,"y":1.05},{"p":"B","s":"a","x":1467,"y":1.05},{"p":"B","s":"a","x":1477,"y":1.07},{"p":"B","s":"a","x":1477.9,"y":1.29},{"p":"B","s":"a","x":1483.7,"y":1.29},{"p":"B","s":"a","x":1490.3,"y":1.45},{"p":"B","s":"a","x":1491.9,"y":1.0},{"p":"B","s":"a","x":1492.8,"y":0.69},{"p":"B","s":"a","x":1494,"y":2.01},{"p":"B","s":"a","x":1496.9,"y":1.97},{"p":"B","s":"a","x":1500.1,"y":1.78},{"p":"B","s":"a","x":1501.8,"y":1.65},{"p":"B","s":"a","x":1506.7,"y":2.37},{"p":"B","s":"a","x":1510.2,"y":1.65},{"p":"B","s":"a","x":1511.7,"y":1.17},{"p":"B","s":"a","x":1516.8,"y":1.17},{"p":"B","s":"a","x":1523.4,"y":1.34},{"p":"B","s":"a","x":1526.6,"y":1.49},{"p":"B","s":"a","x":1530.8,"y":1.62},{"p":"B","s":"a","x":1532.5,"y":1.45},{"p":"B","s":"a","x":1535.8,"y":0.44},{"p":"B","s":"a","x":1537.9,"y":0.0},{"p":"B","s":"a","x":1539.9,"y":0.1},{"p":"B","s":"a","x":1543.3,"y":1.89},{"p":"B","s":"a","x":1546.5,"y":6.3},{"p":"B","s":"a","x":1549.1,"y":10.5},{"p":"B","s":"a","x":1553,"y":13},{"p":"B","s":"a","x":1557.3,"y":10.0},{"p":"B","s":"a","x":1559.8,"y":7.1},{"p":"B","s":"a","x":1562.3,"y":5.1},{"p":"B","s":"a","x":1564.7,"y":3.82},{"p":"B","s":"a","x":1566.4,"y":3.33},{"p":"B","s":"a","x":1568.4,"y":3.74},{"p":"B","s":"a","x":1571.4,"y":3.1},{"p":"B","s":"a","x":1574.8,"y":2.77},{"p":"B","s":"a","x":1577.7,"y":2.49},{"p":"B","s":"a","x":1581.4,"y":3.02},{"p":"B","s":"a","x":1585.4,"y":3.54},{"p":"B","s":"a","x":1588.8,"y":2.3},{"p":"B","s":"a","x":1591.2,"y":1.89},{"p":"B","s":"a","x":1596.1,"y":1.73},{"p":"B","s":"a","x":1602.7,"y":1.49},{"p":"B","s":"a","x":1607.7,"y":1.25},{"p":"B","s":"a","x":1611,"y":1.17},{"p":"B","s":"a","x":1616,"y":1.65},{"p":"B","s":"a","x":1620.2,"y":1.57},{"p":"B","s":"a","x":1625.2,"y":1.81},{"p":"B","s":"a","x":1627.6,"y":1.25},{"p":"B","s":"a","x":1629.5,"y":0.05},{"p":"B","s":"a","x":1631.8,"y":1.17},{"p":"B","s":"a","x":1634.2,"y":3.5},{"p":"B","s":"a","x":1636.7,"y":7.1},{"p":"B","s":"a","x":1639.2,"y":8.95},{"p":"B","s":"a","x":1641.6,"y":9.72},{"p":"B","s":"a","x":1644.2,"y":9.1},{"p":"B","s":"a","x":1646.7,"y":7.1},{"p":"B","s":"a","x":1649.1,"y":3.9},{"p":"B","s":"a","x":1650.8,"y":1.81},{"p":"B","s":"a","x":1654,"y":1.86},{"p":"B","s":"a","x":1659.9,"y":1.57},{"p":"B","s":"a","x":1666.9,"y":1.25},{"p":"B","s":"a","x":1670.4,"y":1.42},{"p":"B","s":"a","x":1676.5,"y":1.1},{"p":"B","s":"a","x":1680.8,"y":1.05},{"p":"B","s":"a","x":1687.9,"y":1.0},{"p":"B","s":"a","x":1689.6,"y":0.9},{"p":"B","s":"a","x":1692.2,"y":1.17},{"p":"B","s":"a","x":1698.4,"y":1.13},{"p":"B","s":"a","x":1705.3,"y":1.5},{"p":"B","s":"a","x":1706.8,"y":1.62},{"p":"B","s":"a","x":1708,"y":0.05},{"p":"B","s":"a","x":1710.5,"y":0.99},{"p":"B","s":"a","x":1713.1,"y":2.69},{"p":"B","s":"a","x":1715.7,"y":3.7},{"p":"B","s":"a","x":1720.2,"y":3.41},{"p":"B","s":"a","x":1723.7,"y":3.1},{"p":"B","s":"a","x":1726.3,"y":2.3},{"p":"B","s":"a","x":1729.5,"y":1.25},{"p":"B","s":"a","x":1733.3,"y":1.13},{"p":"B","s":"a","x":1743.7,"y":1.1},{"p":"B","s":"a","x":1752.5,"y":1.25},{"p":"B","s":"a","x":1760.4,"y":1.17},{"p":"B","s":"a","x":1770,"y":1.13},{"p":"B","s":"a","x":1785.8,"y":1.25},{"p":"B","s":"a","x":1791,"y":1.42},{"p":"B","s":"a","x":1795,"y":1.57},{"p":"B","s":"a","x":1798.7,"y":1.29},{"p":"B","s":"a","x":1804,"y":1.37},{"p":"B","s":"a","x":1810.2,"y":1.78},{"p":"B","s":"a","x":1813.7,"y":1.65},{"p":"B","s":"a","x":1820.6,"y":1.49},{"p":"B","s":"a","x":1827.6,"y":1.25},{"p":"B","s":"a","x":1832.9,"y":1.1},{"p":"B","s":"a","x":1838,"y":1.17},{"p":"B","s":"a","x":1842.5,"y":0.97},{"p":"B","s":"a","x":1849.4,"y":1.65},{"p":"B","s":"a","x":1855.5,"y":1.42},{"p":"B","s":"a","x":1860.7,"y":1.22},{"p":"B","s":"a","x":1864.1,"y":1.29},{"p":"B","s":"a","x":1872.8,"y":1.17},{"p":"B","s":"a","x":1880.9,"y":1.29},{"p":"B","s":"a","x":1885,"y":1.13},{"p":"B","s":"a","x":1890.5,"y":1.49},{"p":"B","s":"a","x":1900,"y":1.94},
{"p":"B","s":"b","x":1200,"y":2.12},{"p":"B","s":"b","x":1203,"y":1.45},{"p":"B","s":"b","x":1205.8,"y":1.18},{"p":"B","s":"b","x":1208.2,"y":0.91},{"p":"B","s":"b","x":1210.7,"y":1.58},{"p":"B","s":"b","x":1212.1,"y":1.71},{"p":"B","s":"b","x":1213.5,"y":2.92},{"p":"B","s":"b","x":1215.5,"y":4.14},{"p":"B","s":"b","x":1216.5,"y":4.2},{"p":"B","s":"b","x":1218.4,"y":3.6},{"p":"B","s":"b","x":1220.8,"y":2.25},{"p":"B","s":"b","x":1223.2,"y":1.24},{"p":"B","s":"b","x":1225.2,"y":1.71},{"p":"B","s":"b","x":1228.6,"y":2.72},{"p":"B","s":"b","x":1230,"y":1.92},{"p":"B","s":"b","x":1230.8,"y":0.24},{"p":"B","s":"b","x":1231.7,"y":0.0},{"p":"B","s":"b","x":1233.1,"y":1.71},{"p":"B","s":"b","x":1234.6,"y":0.91},{"p":"B","s":"b","x":1235.6,"y":0.0},{"p":"B","s":"b","x":1237.6,"y":2.59},{"p":"B","s":"b","x":1240,"y":4.47},{"p":"B","s":"b","x":1241.4,"y":6.29},{"p":"B","s":"b","x":1243.2,"y":6.82},{"p":"B","s":"b","x":1245.3,"y":5.94},{"p":"B","s":"b","x":1246.8,"y":3.93},{"p":"B","s":"b","x":1248.7,"y":2.25},{"p":"B","s":"b","x":1250.2,"y":1.58},{"p":"B","s":"b","x":1252.1,"y":1.31},{"p":"B","s":"b","x":1254,"y":1.12},{"p":"B","s":"b","x":1257.9,"y":1.05},{"p":"B","s":"b","x":1261.5,"y":1.31},{"p":"B","s":"b","x":1264.4,"y":1.12},{"p":"B","s":"b","x":1269.3,"y":1.28},{"p":"B","s":"b","x":1275,"y":1.18},{"p":"B","s":"b","x":1280.7,"y":1.05},{"p":"B","s":"b","x":1284.8,"y":1.09},{"p":"B","s":"b","x":1289,"y":1.3},{"p":"B","s":"b","x":1291.9,"y":1.69},{"p":"B","s":"b","x":1295.9,"y":1.09},{"p":"B","s":"b","x":1303.2,"y":1.02},{"p":"B","s":"b","x":1307,"y":1.17},{"p":"B","s":"b","x":1315.8,"y":1.29},{"p":"B","s":"b","x":1318.8,"y":1.17},{"p":"B","s":"b","x":1325.4,"y":1.05},{"p":"B","s":"b","x":1329,"y":1.0},{"p":"B","s":"b","x":1330,"y":0.0},{"p":"B","s":"b","x":1333.6,"y":0.69},{"p":"B","s":"b","x":1334.5,"y":1.42},{"p":"B","s":"b","x":1336,"y":0.3},{"p":"B","s":"b","x":1339.1,"y":1.65},{"p":"B","s":"b","x":1341.8,"y":2.2},{"p":"B","s":"b","x":1343.7,"y":2.37},{"p":"B","s":"b","x":1347.3,"y":2.33},{"p":"B","s":"b","x":1352.9,"y":2.33},{"p":"B","s":"b","x":1354.8,"y":1.81},{"p":"B","s":"b","x":1358.4,"y":1.34},{"p":"B","s":"b","x":1362,"y":0.85},{"p":"B","s":"b","x":1363.5,"y":0.05},{"p":"B","s":"b","x":1366.6,"y":1.49},{"p":"B","s":"b","x":1369.5,"y":4.06},{"p":"B","s":"b","x":1372.2,"y":4.74},{"p":"B","s":"b","x":1375,"y":4.22},{"p":"B","s":"b","x":1377.8,"y":2.3},{"p":"B","s":"b","x":1380.5,"y":1.25},{"p":"B","s":"b","x":1384.3,"y":1.0},{"p":"B","s":"b","x":1388,"y":0.93},{"p":"B","s":"b","x":1390.6,"y":0.77},{"p":"B","s":"b","x":1392,"y":0.44},{"p":"B","s":"b","x":1393.8,"y":1.17},{"p":"B","s":"b","x":1395.3,"y":1.49},{"p":"B","s":"b","x":1398.9,"y":1.42},{"p":"B","s":"b","x":1402.5,"y":1.49},{"p":"B","s":"b","x":1406.3,"y":1.25},{"p":"B","s":"b","x":1410,"y":1.17},{"p":"B","s":"b","x":1413.7,"y":1.34},{"p":"B","s":"b","x":1417.4,"y":1.45},{"p":"B","s":"b","x":1422.9,"y":1.17},{"p":"B","s":"b","x":1428.4,"y":1.13},{"p":"B","s":"b","x":1434,"y":1.2},{"p":"B","s":"b","x":1440.3,"y":1.29},{"p":"B","s":"b","x":1450,"y":1.09},{"p":"B","s":"b","x":1460,"y":1.05},{"p":"B","s":"b","x":1476,"y":1.05},{"p":"B","s":"b","x":1477,"y":0.85},{"p":"B","s":"b","x":1478,"y":1.05},{"p":"B","s":"b","x":1491,"y":1.0},{"p":"B","s":"b","x":1492.8,"y":1.25},{"p":"B","s":"b","x":1494,"y":1.94},{"p":"B","s":"b","x":1500,"y":1.81},{"p":"B","s":"b","x":1501.8,"y":1.78},{"p":"B","s":"b","x":1506.7,"y":2.37},{"p":"B","s":"b","x":1510.2,"y":1.73},{"p":"B","s":"b","x":1511.7,"y":1.17},{"p":"B","s":"b","x":1516.8,"y":1.09},{"p":"B","s":"b","x":1526.6,"y":1.02},{"p":"B","s":"b","x":1533,"y":1.02},{"p":"B","s":"b","x":1535.8,"y":0.69},{"p":"B","s":"b","x":1538.3,"y":0.1},{"p":"B","s":"b","x":1541,"y":0.0},{"p":"B","s":"b","x":1542.8,"y":1.1},{"p":"B","s":"b","x":1544.5,"y":5.0},{"p":"B","s":"b","x":1546,"y":10.5},{"p":"B","s":"b","x":1548,"y":13},{"p":"B","s":"b","x":1556,"y":13},{"p":"B","s":"b","x":1558,"y":10.5},{"p":"B","s":"b","x":1559.5,"y":3.0},{"p":"B","s":"b","x":1560.6,"y":1.81},{"p":"B","s":"b","x":1564.7,"y":1.49},{"p":"B","s":"b","x":1569.7,"y":1.57},{"p":"B","s":"b","x":1573,"y":1.49},{"p":"B","s":"b","x":1578,"y":1.42},{"p":"B","s":"b","x":1583,"y":1.65},{"p":"B","s":"b","x":1586.3,"y":2.13},{"p":"B","s":"b","x":1588.8,"y":1.57},{"p":"B","s":"b","x":1593,"y":1.29},{"p":"B","s":"b","x":1599.5,"y":1.22},{"p":"B","s":"b","x":1607.7,"y":1.09},{"p":"B","s":"b","x":1616,"y":1.17},{"p":"B","s":"b","x":1620.2,"y":1.34},{"p":"B","s":"b","x":1625.2,"y":1.25},{"p":"B","s":"b","x":1629.5,"y":1.17},{"p":"B","s":"b","x":1631,"y":1.81},{"p":"B","s":"b","x":1634.2,"y":5.0},{"p":"B","s":"b","x":1637.6,"y":7.1},{"p":"B","s":"b","x":1641.6,"y":8.15},{"p":"B","s":"b","x":1645.1,"y":7.1},{"p":"B","s":"b","x":1647.4,"y":5.0},{"p":"B","s":"b","x":1650,"y":2.3},{"p":"B","s":"b","x":1651.7,"y":1.42},{"p":"B","s":"b","x":1655.8,"y":1.5},{"p":"B","s":"b","x":1663.4,"y":1.17},{"p":"B","s":"b","x":1666.9,"y":1.0},{"p":"B","s":"b","x":1671.3,"y":1.22},{"p":"B","s":"b","x":1676.5,"y":1.05},{"p":"B","s":"b","x":1689.6,"y":0.93},{"p":"B","s":"b","x":1691.4,"y":1.17},{"p":"B","s":"b","x":1698.4,"y":1.0},{"p":"B","s":"b","x":1706.2,"y":1.34},{"p":"B","s":"b","x":1708.6,"y":0.05},{"p":"B","s":"b","x":1711.4,"y":1.73},{"p":"B","s":"b","x":1715.7,"y":2.85},{"p":"B","s":"b","x":1720.2,"y":2.45},{"p":"B","s":"b","x":1723.7,"y":2.3},{"p":"B","s":"b","x":1727.2,"y":1.49},{"p":"B","s":"b","x":1730,"y":1.09},{"p":"B","s":"b","x":1742,"y":1.02},{"p":"B","s":"b","x":1768,"y":1.02},{"p":"B","s":"b","x":1785.8,"y":1.09},{"p":"B","s":"b","x":1795,"y":1.37},{"p":"B","s":"b","x":1798.7,"y":1.22},{"p":"B","s":"b","x":1804,"y":1.25},{"p":"B","s":"b","x":1810.2,"y":1.62},{"p":"B","s":"b","x":1814.6,"y":1.42},{"p":"B","s":"b","x":1820.6,"y":1.17},{"p":"B","s":"b","x":1829.3,"y":1.02},{"p":"B","s":"b","x":1836.3,"y":1.29},{"p":"B","s":"b","x":1842.5,"y":0.93},{"p":"B","s":"b","x":1849.4,"y":1.65},{"p":"B","s":"b","x":1855.5,"y":1.34},{"p":"B","s":"b","x":1860.7,"y":1.09},{"p":"B","s":"b","x":1872.8,"y":1.09},{"p":"B","s":"b","x":1885,"y":1.09},{"p":"B","s":"b","x":1892.2,"y":1.42},{"p":"B","s":"b","x":1900,"y":1.5},
{"p":"B","s":"c","x":1200,"y":1.45},{"p":"B","s":"c","x":1204,"y":1.18},{"p":"B","s":"c","x":1205.8,"y":1.05},{"p":"B","s":"c","x":1208,"y":0.6},{"p":"B","s":"c","x":1210,"y":0.4},{"p":"B","s":"c","x":1212,"y":1.5},{"p":"B","s":"c","x":1214,"y":2.5},{"p":"B","s":"c","x":1216,"y":2.6},{"p":"B","s":"c","x":1218,"y":2.4},{"p":"B","s":"c","x":1221,"y":1.98},{"p":"B","s":"c","x":1225,"y":1.31},{"p":"B","s":"c","x":1228.3,"y":0.99},{"p":"B","s":"c","x":1229.8,"y":1.9},{"p":"B","s":"c","x":1230.8,"y":0.6},{"p":"B","s":"c","x":1231.7,"y":0.0},{"p":"B","s":"c","x":1233.5,"y":1.0},{"p":"B","s":"c","x":1234.8,"y":0.5},{"p":"B","s":"c","x":1236,"y":0.0},{"p":"B","s":"c","x":1238.5,"y":2.1},{"p":"B","s":"c","x":1240.8,"y":3.5},{"p":"B","s":"c","x":1243.3,"y":4.3},{"p":"B","s":"c","x":1246,"y":3.6},{"p":"B","s":"c","x":1248,"y":2.1},{"p":"B","s":"c","x":1250,"y":1.0},{"p":"B","s":"c","x":1254,"y":1.0},{"p":"B","s":"c","x":1260,"y":0.95},{"p":"B","s":"c","x":1270,"y":0.95},{"p":"B","s":"c","x":1280,"y":0.95},{"p":"B","s":"c","x":1292,"y":1.2},{"p":"B","s":"c","x":1296,"y":0.95},{"p":"B","s":"c","x":1305,"y":0.95},{"p":"B","s":"c","x":1315,"y":1.1},{"p":"B","s":"c","x":1320,"y":0.95},{"p":"B","s":"c","x":1329,"y":0.95},{"p":"B","s":"c","x":1330,"y":0.0},{"p":"B","s":"c","x":1334,"y":0.7},{"p":"B","s":"c","x":1336,"y":0.3},{"p":"B","s":"c","x":1339,"y":0.9},{"p":"B","s":"c","x":1341,"y":1.0},{"p":"B","s":"c","x":1344,"y":1.2},{"p":"B","s":"c","x":1347,"y":1.3},{"p":"B","s":"c","x":1352,"y":1.5},{"p":"B","s":"c","x":1355,"y":1.3},{"p":"B","s":"c","x":1358,"y":1.0},{"p":"B","s":"c","x":1362,"y":0.8},{"p":"B","s":"c","x":1363.5,"y":0.05},{"p":"B","s":"c","x":1367,"y":1.0},{"p":"B","s":"c","x":1370,"y":2.8},{"p":"B","s":"c","x":1372.5,"y":3.5},{"p":"B","s":"c","x":1375,"y":3.0},{"p":"B","s":"c","x":1378,"y":1.8},{"p":"B","s":"c","x":1381,"y":1.0},{"p":"B","s":"c","x":1384,"y":0.9},{"p":"B","s":"c","x":1388,"y":0.9},{"p":"B","s":"c","x":1392,"y":0.6},{"p":"B","s":"c","x":1395,"y":0.9},{"p":"B","s":"c","x":1400,"y":0.95},{"p":"B","s":"c","x":1430,"y":0.95},{"p":"B","s":"c","x":1450,"y":0.92},{"p":"B","s":"c","x":1490,"y":0.92},{"p":"B","s":"c","x":1495,"y":0.95},{"p":"B","s":"c","x":1500,"y":1.05},{"p":"B","s":"c","x":1506,"y":1.2},{"p":"B","s":"c","x":1510,"y":1.05},{"p":"B","s":"c","x":1512,"y":0.95},{"p":"B","s":"c","x":1535,"y":0.95},{"p":"B","s":"c","x":1538,"y":0.1},{"p":"B","s":"c","x":1541,"y":0.0},{"p":"B","s":"c","x":1544,"y":1.5},{"p":"B","s":"c","x":1546,"y":4.0},{"p":"B","s":"c","x":1548,"y":6.5},{"p":"B","s":"c","x":1550,"y":7.6},{"p":"B","s":"c","x":1552,"y":7.9},{"p":"B","s":"c","x":1554,"y":7.3},{"p":"B","s":"c","x":1556,"y":5.0},{"p":"B","s":"c","x":1558,"y":2.5},{"p":"B","s":"c","x":1560,"y":1.25},{"p":"B","s":"c","x":1565,"y":0.95},{"p":"B","s":"c","x":1575,"y":0.9},{"p":"B","s":"c","x":1580,"y":0.9},{"p":"B","s":"c","x":1585,"y":1.15},{"p":"B","s":"c","x":1590,"y":0.95},{"p":"B","s":"c","x":1600,"y":0.9},{"p":"B","s":"c","x":1615,"y":0.9},{"p":"B","s":"c","x":1625,"y":0.8},{"p":"B","s":"c","x":1629,"y":0.5},{"p":"B","s":"c","x":1632,"y":0.95},{"p":"B","s":"c","x":1634,"y":2.0},{"p":"B","s":"c","x":1637,"y":3.5},{"p":"B","s":"c","x":1640,"y":4.78},{"p":"B","s":"c","x":1643,"y":4.5},{"p":"B","s":"c","x":1646,"y":3.3},{"p":"B","s":"c","x":1648.5,"y":2.0},{"p":"B","s":"c","x":1650,"y":1.2},{"p":"B","s":"c","x":1653,"y":1.0},{"p":"B","s":"c","x":1660,"y":0.9},{"p":"B","s":"c","x":1690,"y":0.88},{"p":"B","s":"c","x":1706,"y":0.9},{"p":"B","s":"c","x":1708,"y":0.1},{"p":"B","s":"c","x":1712,"y":1.2},{"p":"B","s":"c","x":1716,"y":1.73},{"p":"B","s":"c","x":1720,"y":1.6},{"p":"B","s":"c","x":1724,"y":1.45},{"p":"B","s":"c","x":1728,"y":1.0},{"p":"B","s":"c","x":1735,"y":0.9},{"p":"B","s":"c","x":1760,"y":0.9},{"p":"B","s":"c","x":1790,"y":0.92},{"p":"B","s":"c","x":1795,"y":1.05},{"p":"B","s":"c","x":1805,"y":1.0},{"p":"B","s":"c","x":1810,"y":1.15},{"p":"B","s":"c","x":1815,"y":1.2},{"p":"B","s":"c","x":1820,"y":1.0},{"p":"B","s":"c","x":1835,"y":0.95},{"p":"B","s":"c","x":1849,"y":1.2},{"p":"B","s":"c","x":1856,"y":0.95},{"p":"B","s":"c","x":1870,"y":0.92},{"p":"B","s":"c","x":1890,"y":1.0},{"p":"B","s":"c","x":1900,"y":1.25}
]
},
"vconcat":[
{"width":2428,"height":638,
 "resolve":{"axis":{"x":"independent","y":"independent"}},
 "layer":[
  {"data":{"name":"spec"},"transform":[{"filter":"datum.p=='A'"}],
   "mark":{"type":"line","clip":true,"strokeWidth":3.8},
   "encoding":{
    "x":{"field":"x","type":"quantitative","scale":{"domain":[1200,1900],"nice":false,"zero":false},"axis":{"orient":"top","values":[1200,1300,1400,1500,1600,1700,1800,1900],"tickSize":-66,"labels":false,"domain":true,"title":null}},
    "y":{"field":"y","type":"quantitative","scale":{"domain":[0,10],"nice":false,"zero":false},"axis":{"orient":"left","values":[0,2,4,6,8,10],"ticks":false,"domain":true,"labelFontSize":54,"labelPadding":22,"labelOverlap":false,"labelFlush":true,"title":"Normalized Flux","titleFontSize":55,"titleX":-123,"titleY":666,"titleAngle":270,"titleAlign":"center","titleBaseline":"middle"}},
    "color":{"field":"s","type":"nominal","scale":{"domain":["a","b","c"],"range":["#6495ED","#FF1493","#A020F0"]},"legend":{"orient":"none","legendX":1697,"legendY":60,"title":null,"symbolType":"stroke","symbolSize":99856,"symbolStrokeWidth":3.8,"clipHeight":64,"labelFont":"DejaVu Serif","labelFontSize":55,"labelColor":"black","labelOffset":44,"labelLimit":0,"rowPadding":0,"padding":0,"labelExpr":"datum.value=='a'?'M̊=2×10⁻⁷':datum.value=='b'?'M̊=1×10⁻⁷':'M̊=5×10⁻⁸'"}},
    "strokeDash":{"field":"s","type":"nominal","scale":{"domain":["a","b","c"],"range":[[1,0],[45,24],[24,22]]},"legend":{"orient":"none","legendX":1697,"legendY":60,"title":null,"symbolType":"stroke","symbolSize":99856,"symbolStrokeWidth":3.8,"clipHeight":64,"labelFont":"DejaVu Serif","labelFontSize":55,"labelColor":"black","labelOffset":44,"labelLimit":0,"rowPadding":0,"padding":0,"labelExpr":"datum.value=='a'?'M̊=2×10⁻⁷':datum.value=='b'?'M̊=1×10⁻⁷':'M̊=5×10⁻⁸'"}}
   }},
  {"data":{"name":"seg"},"transform":[{"filter":"datum.p=='A'"}],
   "mark":{"type":"rule","strokeWidth":2.5,"color":"black"},
   "encoding":{
    "x":{"field":"x","type":"quantitative","scale":{"domain":[1200,1900],"nice":false,"zero":false},"axis":{"orient":"top","values":[1200,1210,1220,1230,1240,1250,1260,1270,1280,1290,1300,1310,1320,1330,1340,1350,1360,1370,1380,1390,1400,1410,1420,1430,1440,1450,1460,1470,1480,1490,1500,1510,1520,1530,1540,1550,1560,1570,1580,1590,1600,1610,1620,1630,1640,1650,1660,1670,1680,1690,1700,1710,1720,1730,1740,1750,1760,1770,1780,1790,1800,1810,1820,1830,1840,1850,1860,1870,1880,1890,1900],"tickSize":-33,"labels":false,"domain":false,"title":null}},
    "x2":{"field":"x2"},
    "y":{"field":"y","type":"quantitative","scale":{"domain":[0,10],"nice":false,"zero":false},"axis":{"orient":"left","values":[0,2,4,6,8,10],"tickSize":-50,"labels":false,"domain":false,"title":null}},
    "y2":{"field":"y2"}
   }},
  {"data":{"name":"lab"},"transform":[{"filter":"datum.p=='A'"}],
   "mark":{"type":"text","angle":270,"align":"left","baseline":"middle","font":"Liberation Serif","fontSize":40,"color":"black"},
   "encoding":{
    "x":{"field":"x","type":"quantitative","scale":{"domain":[1200,1900],"nice":false,"zero":false},"axis":null},
    "y":{"field":"y","type":"quantitative","scale":{"domain":[0,10],"nice":false,"zero":false},"axis":{"orient":"left","values":[0.5,1,1.5,2.5,3,3.5,4.5,5,5.5,6.5,7,7.5,8.5,9,9.5],"tickSize":-25,"labels":false,"domain":false,"title":null}},
    "text":{"field":"t"}
   }},
  {"data":{"name":"pl"},"transform":[{"filter":"datum.p=='A'"}],
   "mark":{"type":"text","align":"left","baseline":"alphabetic","font":"DejaVu Serif","fontSize":56,"color":"black"},
   "encoding":{
    "x":{"field":"x","type":"quantitative","scale":{"domain":[1200,1900],"nice":false,"zero":false},"axis":null},
    "y":{"field":"y","type":"quantitative","scale":{"domain":[0,10],"nice":false,"zero":false},"axis":{"orient":"right","values":[0,2,4,6,8,10],"tickSize":-50,"labels":false,"domain":true,"title":null}},
    "text":{"field":"t"}
   }},
  {"data":{"name":"pl"},"transform":[{"filter":"datum.p=='A'"}],
   "mark":{"type":"point","opacity":0},
   "encoding":{
    "x":{"field":"x","type":"quantitative","scale":{"domain":[1200,1900],"nice":false,"zero":false},"axis":null},
    "y":{"field":"y","type":"quantitative","scale":{"domain":[0,10],"nice":false,"zero":false},"axis":{"orient":"right","values":[0.5,1,1.5,2.5,3,3.5,4.5,5,5.5,6.5,7,7.5,8.5,9,9.5],"tickSize":-25,"labels":false,"domain":false,"title":null}}
   }}
 ]},
{"width":2428,"height":637,
 "resolve":{"axis":{"x":"independent","y":"independent"}},
 "layer":[
  {"data":{"name":"spec"},"transform":[{"filter":"datum.p=='B'"}],
   "mark":{"type":"line","clip":true,"strokeWidth":3.8},
   "encoding":{
    "x":{"field":"x","type":"quantitative","scale":{"domain":[1200,1900],"nice":false,"zero":false},"axis":{"orient":"bottom","values":[1200,1300,1400,1500,1600,1700,1800,1900],"tickSize":-66,"labels":false,"domain":false,"title":null}},
    "y":{"field":"y","type":"quantitative","scale":{"domain":[0,10],"nice":false,"zero":false},"axis":{"orient":"left","values":[0,2,4,6,8],"ticks":false,"domain":true,"labelFontSize":54,"labelPadding":22,"labelOverlap":false,"labelFlush":true,"title":null}},
    "color":{"field":"s","type":"nominal","scale":{"domain":["a","b","c"],"range":["#6495ED","#FF1493","#A020F0"]},"legend":{"orient":"none","legendX":1697,"legendY":60,"title":null,"symbolType":"stroke","symbolSize":99856,"symbolStrokeWidth":3.8,"clipHeight":64,"labelFont":"DejaVu Serif","labelFontSize":55,"labelColor":"black","labelOffset":44,"labelLimit":0,"rowPadding":0,"padding":0,"labelExpr":"datum.value=='a'?'M̊=2×10⁻⁷':datum.value=='b'?'M̊=1×10⁻⁷':'M̊=5×10⁻⁸'"}},
    "strokeDash":{"field":"s","type":"nominal","scale":{"domain":["a","b","c"],"range":[[1,0],[45,24],[24,22]]},"legend":{"orient":"none","legendX":1697,"legendY":60,"title":null,"symbolType":"stroke","symbolSize":99856,"symbolStrokeWidth":3.8,"clipHeight":64,"labelFont":"DejaVu Serif","labelFontSize":55,"labelColor":"black","labelOffset":44,"labelLimit":0,"rowPadding":0,"padding":0,"labelExpr":"datum.value=='a'?'M̊=2×10⁻⁷':datum.value=='b'?'M̊=1×10⁻⁷':'M̊=5×10⁻⁸'"}}
   }},
  {"data":{"name":"seg"},"transform":[{"filter":"datum.p=='B'"}],
   "mark":{"type":"rule","strokeWidth":2.5,"color":"black"},
   "encoding":{
    "x":{"field":"x","type":"quantitative","scale":{"domain":[1200,1900],"nice":false,"zero":false},"axis":{"orient":"bottom","values":[1200,1210,1220,1230,1240,1250,1260,1270,1280,1290,1300,1310,1320,1330,1340,1350,1360,1370,1380,1390,1400,1410,1420,1430,1440,1450,1460,1470,1480,1490,1500,1510,1520,1530,1540,1550,1560,1570,1580,1590,1600,1610,1620,1630,1640,1650,1660,1670,1680,1690,1700,1710,1720,1730,1740,1750,1760,1770,1780,1790,1800,1810,1820,1830,1840,1850,1860,1870,1880,1890,1900],"tickSize":-33,"labels":false,"domain":false,"title":null}},
    "x2":{"field":"x2"},
    "y":{"field":"y","type":"quantitative","scale":{"domain":[0,10],"nice":false,"zero":false},"axis":{"orient":"left","values":[0,2,4,6,8,10],"tickSize":-50,"labels":false,"domain":false,"title":null}},
    "y2":{"field":"y2"}
   }},
  {"data":{"name":"lab"},"transform":[{"filter":"datum.p=='B'"}],
   "mark":{"type":"text","angle":270,"align":"left","baseline":"middle","font":"Liberation Serif","fontSize":40,"color":"black"},
   "encoding":{
    "x":{"field":"x","type":"quantitative","scale":{"domain":[1200,1900],"nice":false,"zero":false},"axis":{"orient":"bottom","values":[1200,1300,1400,1500,1600,1700,1800,1900],"format":"d","ticks":false,"domain":true,"labelFontSize":53,"labelPadding":46,"labelFlush":false,"labelOverlap":false,"title":"λ  (Å)","titleFontSize":55,"titleX":1209,"titleY":154,"titleAlign":"center","titleBaseline":"alphabetic"}},
    "y":{"field":"y","type":"quantitative","scale":{"domain":[0,10],"nice":false,"zero":false},"axis":{"orient":"left","values":[0.5,1,1.5,2.5,3,3.5,4.5,5,5.5,6.5,7,7.5,8.5,9,9.5],"tickSize":-25,"labels":false,"domain":false,"title":null}},
    "text":{"field":"t"}
   }},
  {"data":{"name":"pl"},"transform":[{"filter":"datum.p=='B'"}],
   "mark":{"type":"text","align":"left","baseline":"alphabetic","font":"DejaVu Serif","fontSize":56,"color":"black"},
   "encoding":{
    "x":{"field":"x","type":"quantitative","scale":{"domain":[1200,1900],"nice":false,"zero":false},"axis":null},
    "y":{"field":"y","type":"quantitative","scale":{"domain":[0,10],"nice":false,"zero":false},"axis":{"orient":"right","values":[0,2,4,6,8,10],"tickSize":-50,"labels":false,"domain":true,"title":null}},
    "text":{"field":"t"}
   }},
  {"data":{"name":"pl"},"transform":[{"filter":"datum.p=='B'"}],
   "mark":{"type":"point","opacity":0},
   "encoding":{
    "x":{"field":"x","type":"quantitative","scale":{"domain":[1200,1900],"nice":false,"zero":false},"axis":null},
    "y":{"field":"y","type":"quantitative","scale":{"domain":[0,10],"nice":false,"zero":false},"axis":{"orient":"right","values":[0.5,1,1.5,2.5,3,3.5,4.5,5,5.5,6.5,7,7.5,8.5,9,9.5],"tickSize":-25,"labels":false,"domain":false,"title":null}}
   }}
 ]}
]
}
